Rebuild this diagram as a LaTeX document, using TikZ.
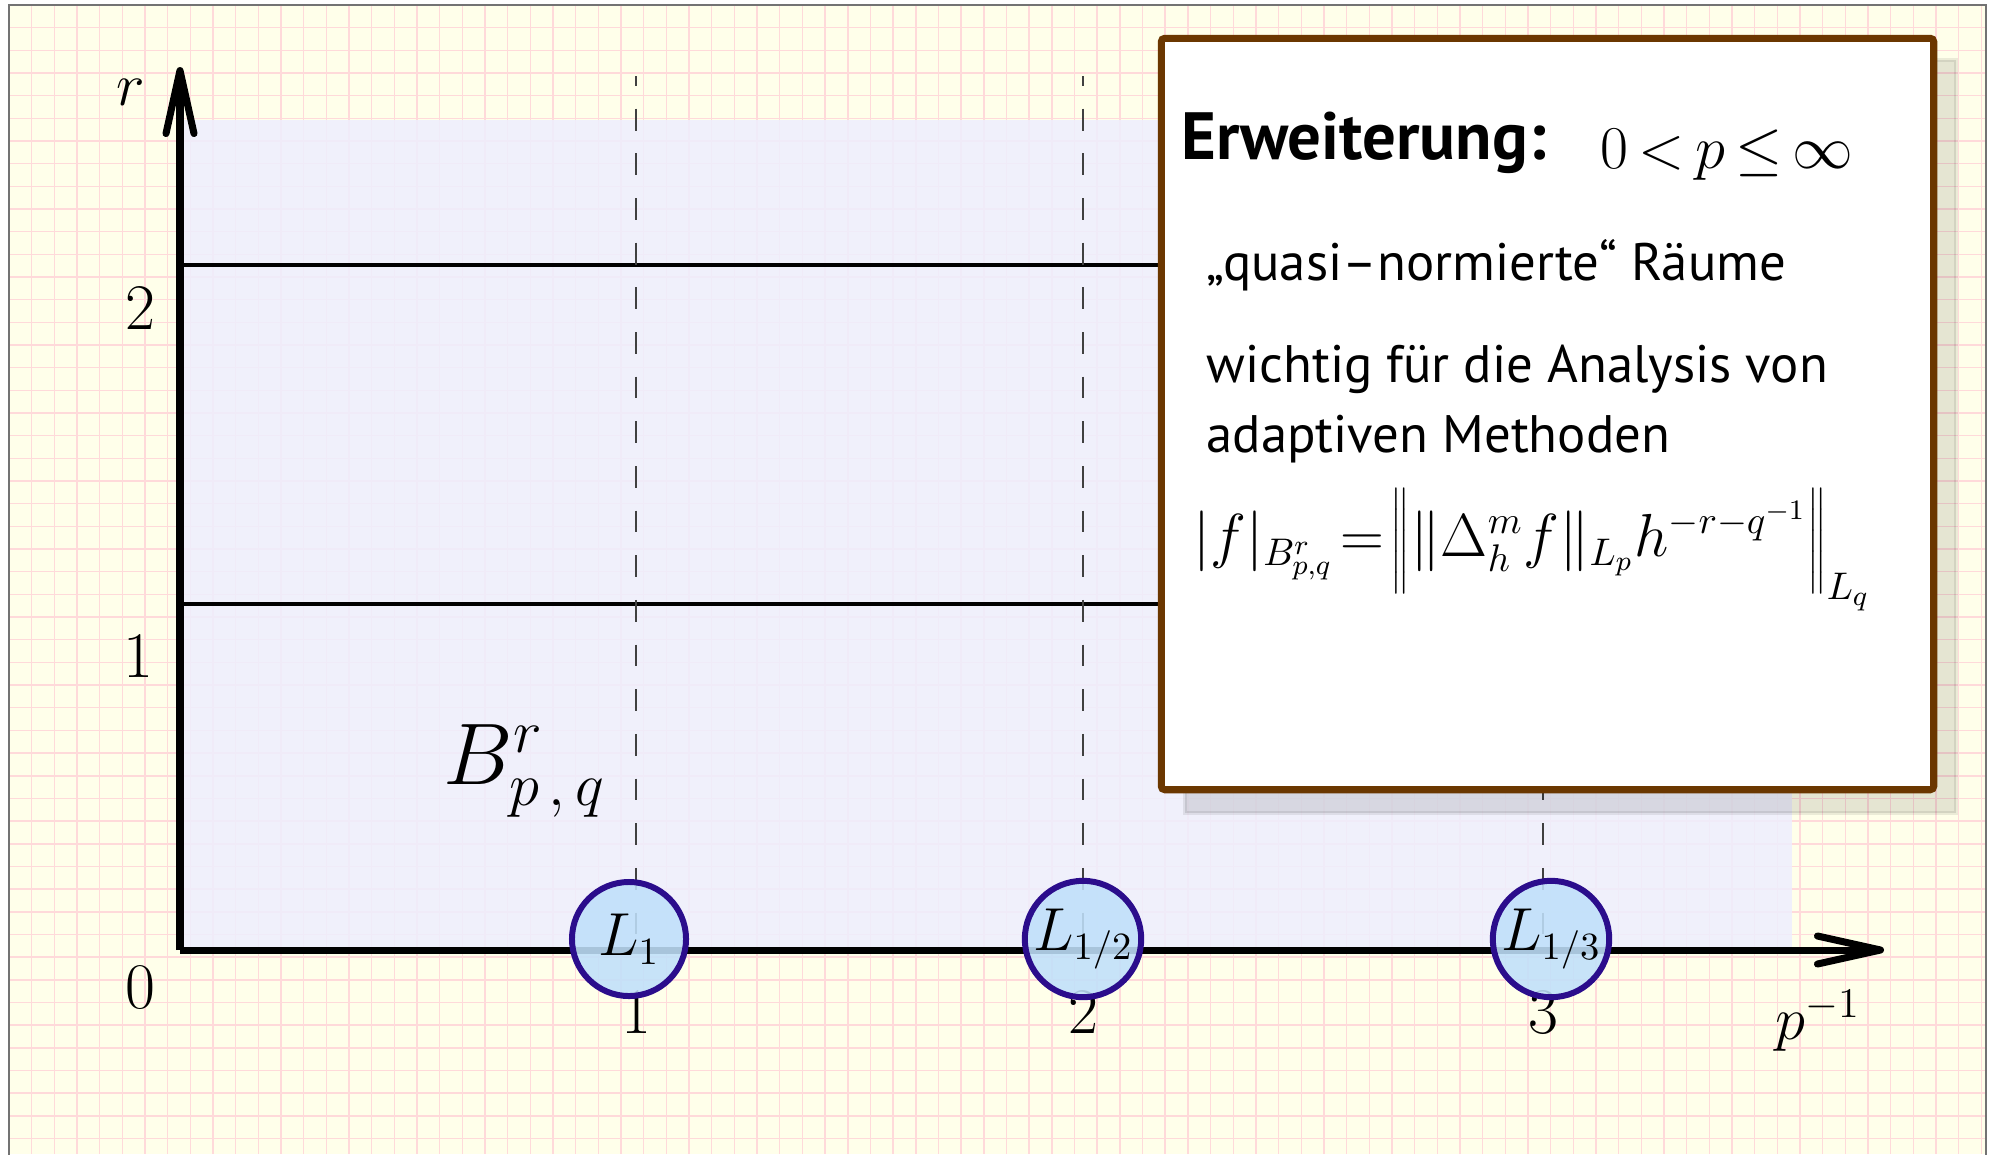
\documentclass[tikz,border=0pt]{standalone}
\usepackage{fontspec}
\newfontfamily\boxfont{PT Sans}
\usetikzlibrary{arrows.meta,positioning}
\definecolor{paper}{RGB}{255,255,234}
\definecolor{gridpink}{RGB}{255,218,218}
\definecolor{lavender}{RGB}{238,238,254}
\definecolor{ballfill}{RGB}{192,224,250}
\definecolor{balldraw}{RGB}{43,13,140}
\definecolor{boxbrown}{RGB}{107,55,0}
\begin{document}
\begin{tikzpicture}[x=0.01cm,y=-0.01cm,
	gridln/.style={gridpink,line width=0.4pt},
	axis/.style={line width=2pt,-{Straight Barb[length=6.3mm,width=2.8mm,round]}},
	rline/.style={line width=0.9pt},
	guide/.style={black!75,line width=0.45pt,dash pattern=on 6.2pt off 6.5pt,dash phase=3.4pt},
	lbl/.style={font=\fontsize{18.5}{22}\selectfont,inner sep=0pt},
	ball/.style={circle,draw=balldraw,line width=1.7pt,fill=ballfill,fill opacity=0.88,text opacity=1,minimum size=1.14cm,inner sep=0pt,font=\fontsize{16}{18}\selectfont},
	shadow/.style={fill=black,fill opacity=0.1,draw=black,draw opacity=0.08,line width=1.2pt},
	infobox/.style={draw=boxbrown,line width=2pt,fill=white,rounded corners=1pt,minimum width=7.72cm,minimum height=7.51cm,inner sep=0pt},
	boxtxt/.style={font=\boxfont\fontsize{15}{18}\selectfont,anchor=base west,inner sep=0pt}
	]
	\useasboundingbox (0,0) rectangle (1995,1154);
	% paper with grid
	\fill[white] (0,0) rectangle (1995,1154);
	\fill[paper] (9,5) rectangle (1986,1154);
	\foreach \k in {1,...,87} \draw[gridln] ({9+22.67*\k},5) -- ({9+22.67*\k},1154);
	\foreach \k in {1,...,50} \draw[gridln] (9,{5+22.67*\k}) -- (1986,{5+22.67*\k});
	\draw[black!55,line width=0.5pt] (9,1160) -- (9,5) -- (1986,5) -- (1986,1160);
	\fill[lavender,fill opacity=0.85] (180,120) rectangle (1792,950);
	
	\coordinate (o) at (180,950);
	\coordinate (xend) at (1884,950);
	\coordinate (yend) at (180,67);
	\coordinate (r1a) at (180,604);
	\coordinate (r1b) at (1160,604);
	\coordinate (r2a) at (180,265);
	\coordinate (r2b) at (1160,265);
	\coordinate (t1) at (636,76);
	\coordinate (t2) at (1083,76);
	\coordinate (t3) at (1543,76);
	\coordinate (f1) at (636,950);
	\coordinate (f2) at (1083,950);
	\coordinate (f3) at (1543,950);
	
	\draw[rline] (r1a) -- (r1b);
	\draw[rline] (r2a) -- (r2b);
	\draw[guide] (t1) -- (f1);
	\draw[guide] (t2) -- (f2);
	\draw[guide] (t3) -- (f3);
	\draw[axis] (o) -- (xend);
	\draw[axis] (o) -- (yend);
	
	\node[lbl] (ylab) at (131,92) {$r$};
	\node[lbl] (y0) at (140,987) {0};
	\node[lbl] (y1) at (138,656) {1};
	\node[lbl] (y2) at (140,308) {2};
	\node[lbl] (x1) at (636,1012) {1};
	\node[lbl] (x2) at (1083,1012) {2};
	\node[lbl] (x3) at (1543,1012) {3};
	\node[lbl] (xlab) at (1818,1021) {$p^{-1}$};
	\node[lbl,font=\fontsize{24}{28}\selectfont] (besov) at (525,771) {$B^{r}_{p\,,\,q}$};
	
	\node[ball] (c1) at (629,939) {$L_1$};
	\node[ball] (c2) at (1083,939) {$L_{1/2}$};
	\node[ball] (c3) at (1551,939) {$L_{1/3}$};
	
	% info box
	\draw[shadow] (1185,60) rectangle (1956,813);
	\node[infobox] (box) at (1547.5,414) {};
	\node[boxtxt,font=\boxfont\bfseries\fontsize{19}{22}\selectfont] (head) at (1181,159) {Erweiterung:};
	\node[boxtxt,font=\fontsize{17.5}{20}\selectfont] (range) at (1600,168) {$0\,{<}\,p\,{\leq}\,\infty$};
	\node[boxtxt] (quasi) at (1206,280) {„quasi–normierte“ Räume};
	\node[boxtxt] (use1) at (1206,382) {wichtig für die Analysis von};
	\node[boxtxt] (use2) at (1206,452) {adaptiven Methoden};
	\node[boxtxt,font=\fontsize{16.3}{20}\selectfont] (norm) at (1193,556)
		{$|f|_{B^{r}_{p,q}}\!=\!\left\|\rule[-0.42cm]{0pt}{1.12cm}\|\Delta_h^m f\|_{L_p}h^{-r-q^{-1}}\right\|_{L_q}$};
\end{tikzpicture}
\end{document}
